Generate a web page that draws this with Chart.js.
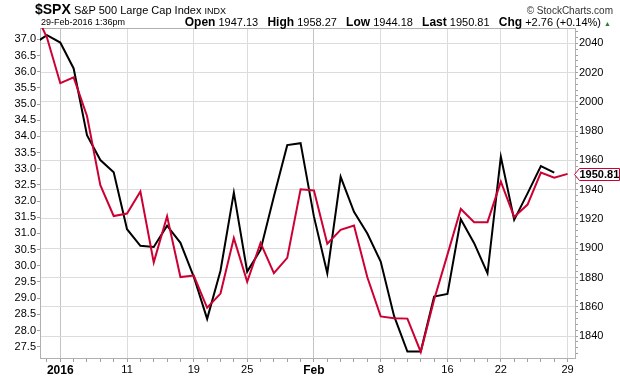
<!DOCTYPE html>
<html>
<head>
<meta charset="utf-8">
<script src="https://cdn.jsdelivr.net/npm/chart.js@4"></script>
<style>
body{margin:0;background:#fff;font-family:"Liberation Sans",Arial,sans-serif;}
#wrap{position:relative;width:620px;height:376px;overflow:hidden;}
canvas{position:absolute;left:0;top:0;}
.t{position:absolute;white-space:nowrap;color:#000;font-size:11px;line-height:13px;}
</style>
</head>
<body>
<div id="wrap">
<canvas id="c" width="620" height="376"></canvas>
<div class="t" style="left:35px;top:3px;"><span style="font-size:14px;font-weight:bold">$SPX</span> <span style="font-size:11px">S&amp;P 500 Large Cap Index</span> <span style="font-size:9px">INDX</span></div>
<div class="t" style="right:7px;top:4px;font-size:10px;color:#333">&copy; StockCharts.com</div>
<div class="t" style="left:41px;top:16px;font-size:9px">29-Feb-2016 1:36pm</div>
<div class="t" style="right:9px;top:16px;font-size:11px"><b style="font-size:12px">Open</b> 1947.13 &nbsp;&nbsp;<b style="font-size:12px">High</b> 1958.27 &nbsp;&nbsp;<b style="font-size:12px">Low</b> 1944.18 &nbsp;&nbsp;<b style="font-size:12px">Last</b> 1950.81 &nbsp;&nbsp;<b style="font-size:12px">Chg</b> +2.76 (+0.14%) <span style="color:#2e7d32;font-size:7px">&#9650;</span></div>
</div>
<script>
// trading days shown on the chart
const tradingDays = ['2015-12-30','2015-12-31',
  '2016-01-04','2016-01-05','2016-01-06','2016-01-07','2016-01-08',
  '2016-01-11','2016-01-12','2016-01-13','2016-01-14','2016-01-15',
  '2016-01-19','2016-01-20','2016-01-21','2016-01-22',
  '2016-01-25','2016-01-26','2016-01-27','2016-01-28','2016-01-29',
  '2016-02-01','2016-02-02','2016-02-03','2016-02-04','2016-02-05',
  '2016-02-08','2016-02-09','2016-02-10','2016-02-11','2016-02-12',
  '2016-02-16','2016-02-17','2016-02-18','2016-02-19',
  '2016-02-22','2016-02-23','2016-02-24','2016-02-25','2016-02-26',
  '2016-02-29'];

// $SPX close (right axis)
const spxClose = [2063.4, 2043.9,
  2012.7, 2016.7, 1990.3, 1943.1, 1922.0,
  1923.7, 1938.7, 1890.3, 1921.8, 1880.3,
  1881.3, 1859.3, 1869.0, 1906.9,
  1877.1, 1903.6, 1883.0, 1893.4, 1940.2,
  1939.4, 1903.0, 1912.5, 1915.5, 1880.1,
  1853.4, 1852.2, 1851.9, 1829.1, 1864.8,
  1895.6, 1926.8, 1917.8, 1917.8,
  1945.5, 1921.3, 1929.8, 1951.7, 1948.1,
  1950.8];

// black series (left axis), ends on 26-Feb
const blackSeries = [36.85, 37.13,
  36.90, 36.10, 34.04, 33.27, 32.89,
  31.13, 30.62, 30.58, 31.24, 30.71,
  29.66, 28.36, 29.85, 32.26,
  29.82, 30.49, 32.14, 33.73, 33.79,
  31.52, 29.77, 32.75, 31.67, 31.00,
  30.13, 28.45, 27.35, 27.35, 29.05,
  29.13, 31.44, 30.70, 29.77,
  33.37, 31.42, 32.24, 33.08, 32.88];

// x axis labels
const tickDates = ['2016-01-04','2016-01-11','2016-01-19','2016-01-25','2016-02-01','2016-02-08','2016-02-16','2016-02-22','2016-02-29'];
const tickLabels = ['2016','11','19','25','Feb','8','16','22','29'];
const boldLabels = ['2016','Feb'];

const lastValue = 1950.81;

const labelAt = {};
tickDates.forEach((d, k) => { labelAt[tradingDays.indexOf(d)] = tickLabels[k]; });

const toPoints = arr => arr.map((v, i) => ({ x: i, y: v }));

const frame = {
  id: 'frame',
  beforeDatasetsDraw(chart) {
    const a = chart.chartArea, ctx = chart.ctx;
    ctx.save();
    ctx.strokeStyle = '#b0b0b0';
    ctx.lineWidth = 1;
    ctx.strokeRect(Math.round(a.left) + 0.5, Math.round(a.top) + 0.5, Math.round(a.right - a.left) - 1, Math.round(a.bottom - a.top) - 1);
    ctx.restore();
  }
};

const priceTag = {
  id: 'priceTag',
  afterDraw(chart) {
    const ctx = chart.ctx;
    const y = Math.round(chart.scales.yR.getPixelForValue(lastValue)) + 0.5;
    const x0 = chart.chartArea.right - 1.5;
    ctx.save();
    ctx.beginPath();
    ctx.moveTo(x0, y);
    ctx.lineTo(x0 + 5, y - 6);
    ctx.lineTo(619.5, y - 6);
    ctx.lineTo(619.5, y + 6);
    ctx.lineTo(x0 + 5, y + 6);
    ctx.closePath();
    ctx.fillStyle = '#fff';
    ctx.fill();
    ctx.strokeStyle = '#cc0033';
    ctx.lineWidth = 1;
    ctx.stroke();
    ctx.fillStyle = '#000';
    ctx.font = 'bold 11px "Liberation Sans", Arial, sans-serif';
    ctx.textBaseline = 'middle';
    ctx.fillText('1950.81', x0 + 5, y + 0.5);
    ctx.restore();
  }
};

const gridGray = '#dcdcdc';

new Chart(document.getElementById('c').getContext('2d'), {
  type: 'line',
  data: {
    datasets: [{
      label: '$SPX',
      data: toPoints(spxClose),
      yAxisID: 'yR',
      borderColor: '#cc0033',
      borderWidth: 2,
      pointRadius: 0,
      tension: 0,
      clip: 0
    }, {
      label: 'black',
      data: toPoints(blackSeries),
      yAxisID: 'yL',
      borderColor: '#000000',
      borderWidth: 2,
      pointRadius: 0,
      tension: 0,
      clip: 0
    }]
  },
  options: {
    responsive: false,
    animation: false,
    layout: { padding: { top: 28, left: 0, right: 0, bottom: 0 } },
    plugins: { legend: { display: false }, tooltip: { enabled: false } },
    scales: {
      x: {
        type: 'linear',
        min: 0.48,
        max: 40.63,
        afterBuildTicks: s => { s.ticks = tradingDays.map((d, i) => ({ value: i })).filter(t => t.value >= 1); },
        afterFit: s => { s.height = 17; },
        border: { display: false },
        grid: {
          color: c => {
            const l = labelAt[c.tick && c.tick.value];
            if (!l) return 'rgba(0,0,0,0)';
            return boldLabels.includes(l) ? '#c4c4c4' : gridGray;
          },
          tickColor: '#a0a0a0',
          tickLength: 3
        },
        ticks: {
          autoSkip: false,
          maxRotation: 0,
          padding: 1,
          color: '#000',
          callback: v => labelAt[v] || '',
          font: c => ({
            family: '"Liberation Sans", Arial, sans-serif',
            size: boldLabels.includes(labelAt[c.tick && c.tick.value]) ? 12 : 11,
            weight: boldLabels.includes(labelAt[c.tick && c.tick.value]) ? 'bold' : 'normal'
          })
        }
      },
      yL: {
        type: 'linear',
        position: 'left',
        min: 27.12,
        max: 37.35,
        afterFit: s => { s.width = 40; },
        border: { display: false },
        grid: { drawOnChartArea: false, tickColor: '#a0a0a0', tickLength: 3 },
        ticks: {
          stepSize: 0.5,
          includeBounds: false,
          padding: 1,
          color: '#000',
          font: { family: '"Liberation Sans", Arial, sans-serif', size: 11 },
          callback: v => v.toFixed(1)
        }
      },
      yR: {
        type: 'linear',
        position: 'right',
        min: 1824.3,
        max: 2050.45,
        afterFit: s => { s.width = 44; },
        border: { display: false },
        grid: {
          color: c => (c.tick && c.tick.value % 20 === 0) ? gridGray : 'rgba(0,0,0,0)',
          tickColor: '#a0a0a0',
          tickLength: 2
        },
        ticks: {
          stepSize: 4,
          includeBounds: false,
          autoSkip: false,
          padding: 1,
          color: '#000',
          font: { family: '"Liberation Sans", Arial, sans-serif', size: 11 },
          callback: v => v % 20 === 0 ? String(v) : ''
        }
      }
    }
  },
  plugins: [frame, priceTag]
});
</script>
</body>
</html>
